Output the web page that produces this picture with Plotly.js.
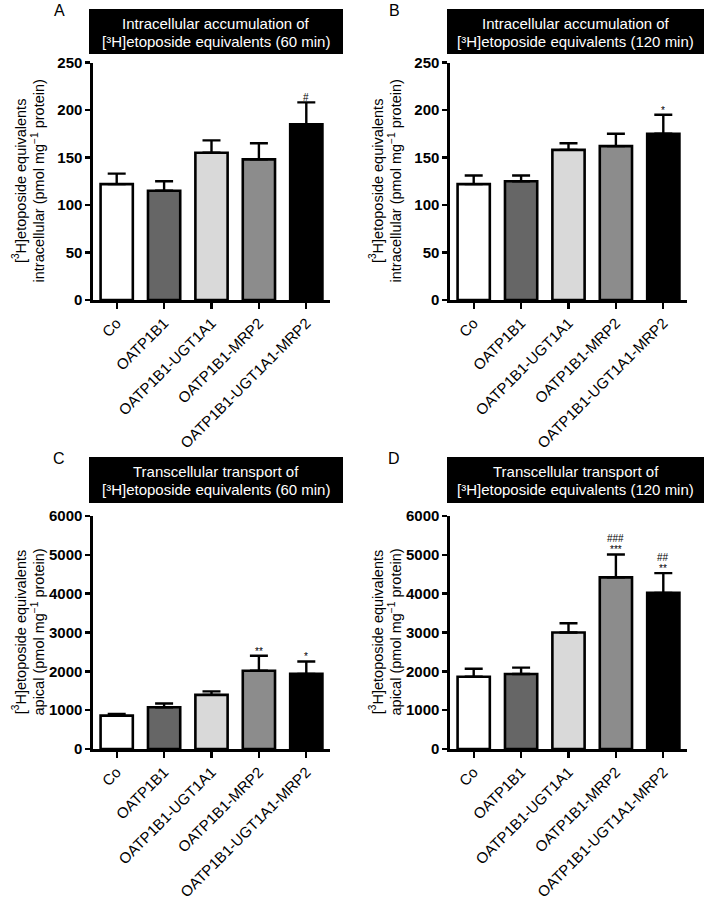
<!DOCTYPE html>
<html>
<head>
<meta charset="utf-8">
<script src="https://cdn.plot.ly/plotly-3.0.1.min.js"></script>
<style>html,body{margin:0;padding:0;background:#fff;}#chart{width:708px;height:899px;}</style>
</head>
<body>
<div id="chart"></div>
<script>
// ---- data ----
const categories = ['Co', 'OATP1B1', 'OATP1B1-UGT1A1', 'OATP1B1-MRP2', 'OATP1B1-UGT1A1-MRP2'];
const barColors = ['#ffffff', '#666666', '#d9d9d9', '#8c8c8c', '#000000'];

const meanA = [122, 115, 155, 148, 185];
const sdA   = [11, 10, 13, 17, 23];
const meanB = [122, 125, 158, 162, 175];
const sdB   = [9, 6, 7, 13, 20];
const meanC = [860, 1075, 1395, 2015, 1935];
const sdC   = [45, 95, 90, 385, 320];
const meanD = [1860, 1930, 3000, 4420, 4020];
const sdD   = [205, 165, 240, 590, 510];

const sigLowA = ['', '', '', '', '#'];
const sigLowB = ['', '', '', '', '*'];
const sigLowC = ['', '', '', '**', '*'];
const sigLowD = ['', '', '', '***', '**'];
const sigHighD = ['', '', '', '###', '##'];

const titleLine1 = ['Intracellular accumulation of', 'Intracellular accumulation of',
                    'Transcellular transport of', 'Transcellular transport of'];
const titleLine2 = ['[³H]etoposide equivalents (60 min)', '[³H]etoposide equivalents (120 min)',
                    '[³H]etoposide equivalents (60 min)', '[³H]etoposide equivalents (120 min)'];
const yTitles = ['[<sup>3</sup>H]etoposide equivalents<br>intracellular (pmol mg<sup>−1</sup> protein)',
                 '[<sup>3</sup>H]etoposide equivalents<br>intracellular (pmol mg<sup>−1</sup> protein)',
                 '[<sup>3</sup>H]etoposide equivalents<br>apical (pmol mg<sup>−1</sup> protein)',
                 '[<sup>3</sup>H]etoposide equivalents<br>apical (pmol mg<sup>−1</sup> protein)'];
const panelLetters = ['A', 'B', 'C', 'D'];
const yMax = [250, 250, 6000, 6000];
const yStep = [50, 50, 1000, 1000];

// ---- layout geometry (pixels) ----
const W = 708, H = 899;
const FONT = 'Liberation Sans, Arial, Helvetica, sans-serif';
const px = x => x / W;
const py = y => 1 - y / H;
const panels = [
  {x0: 93,  x1: 330, y0: 62.5, y1: 300, box: [89, 343, 9, 54],    letter: [59, 10.5],  ytl: [28.5, 181]},
  {x0: 450, x1: 687, y0: 62.5, y1: 300, box: [447, 704, 9, 54],   letter: [394, 10.5], ytl: [385.5, 181]},
  {x0: 93,  x1: 330, y0: 516,  y1: 749, box: [89, 343, 457, 503], letter: [59, 458.5], ytl: [28.5, 632]},
  {x0: 450, x1: 687, y0: 516,  y1: 749, box: [447, 704, 457, 503], letter: [394, 458.5], ytl: [385.5, 632]}
];

const means = [meanA, meanB, meanC, meanD];
const sds = [sdA, sdB, sdC, sdD];
const sigLow = [sigLowA, sigLowB, sigLowC, sigLowD];
const sigHigh = [null, null, null, sigHighD];

const traces = [];
const layout = {
  width: W, height: H, autosize: false,
  margin: {l: 0, r: 0, t: 0, b: 0},
  paper_bgcolor: '#fff', plot_bgcolor: 'rgba(0,0,0,0)',
  showlegend: false,
  font: {family: FONT, color: '#000'},
  shapes: [], annotations: []
};

panels.forEach((p, i) => {
  const n = i + 1;
  const xa = n === 1 ? 'x' : 'x' + n;
  const ya = n === 1 ? 'y' : 'y' + n;
  traces.push({
    type: 'bar', x: categories, y: means[i], xaxis: xa, yaxis: ya,
    width: 0.68,
    marker: {color: barColors, line: {color: '#000', width: 2.6}},
    error_y: {type: 'data', symmetric: false, array: sds[i],
              arrayminus: sds[i].map(() => 0), color: '#000', thickness: 2.4, width: 9},
    hoverinfo: 'none', cliponaxis: false
  });
  layout['xaxis' + (n === 1 ? '' : n)] = {
    domain: [px(p.x0), px(p.x1)], anchor: ya, type: 'category',
    range: [-0.5, 4.5], showgrid: false, zeroline: false,
    showline: true, linecolor: '#000', linewidth: 2.6,
    ticks: 'outside', ticklen: 6, tickwidth: 2.4, tickcolor: '#000',
    tickangle: -45, tickfont: {family: FONT, size: 15, color: '#000'}, fixedrange: true
  };
  layout['yaxis' + (n === 1 ? '' : n)] = {
    domain: [py(p.y1), py(p.y0)], anchor: xa,
    range: [0, yMax[i]], dtick: yStep[i], tick0: 0, showgrid: false, zeroline: false,
    showline: true, linecolor: '#000', linewidth: 2.6,
    ticks: 'outside', ticklen: 5, tickwidth: 2.4, tickcolor: '#000',
    tickfont: {family: FONT, size: 15, color: '#000', weight: 'bold'}, fixedrange: true
  };
  // title box
  layout.shapes.push({type: 'rect', xref: 'paper', yref: 'paper',
    x0: px(p.box[0]), x1: px(p.box[1]), y0: py(p.box[3]), y1: py(p.box[2]),
    fillcolor: '#000', line: {width: 0}, layer: 'below'});
  const cx = (p.box[0] + p.box[1]) / 2;
  layout.annotations.push({xref: 'paper', yref: 'paper', x: px(cx), y: py(p.box[2] + 14),
    text: titleLine1[i], showarrow: false, xanchor: 'center', yanchor: 'middle',
    font: {family: FONT, size: 15, color: '#fff'}});
  layout.annotations.push({xref: 'paper', yref: 'paper', x: px(cx), y: py(p.box[2] + 32),
    text: titleLine2[i], showarrow: false, xanchor: 'center', yanchor: 'middle',
    font: {family: FONT, size: 15, color: '#fff'}});
  // panel letter
  layout.annotations.push({xref: 'paper', yref: 'paper', x: px(p.letter[0]), y: py(p.letter[1]),
    text: panelLetters[i], showarrow: false, xanchor: 'center', yanchor: 'middle',
    font: {family: FONT, size: 16, color: '#000'}});
  // y axis title
  layout.annotations.push({xref: 'paper', yref: 'paper', x: px(p.ytl[0]), y: py(p.ytl[1]),
    text: yTitles[i], showarrow: false, xanchor: 'center', yanchor: 'middle', textangle: -90,
    font: {family: FONT, size: 14.5, color: '#000'}});
  // significance marks
  categories.forEach((c, j) => {
    const top = means[i][j] + sds[i][j];
    if (sigLow[i][j]) {
      layout.annotations.push({xref: xa, yref: ya, x: c, y: top, text: sigLow[i][j],
        showarrow: false, xanchor: 'center', yanchor: 'bottom', yshift: -3,
        font: {family: FONT, size: 10, color: '#000'}});
    }
    if (sigHigh[i] && sigHigh[i][j]) {
      layout.annotations.push({xref: xa, yref: ya, x: c, y: top, text: sigHigh[i][j],
        showarrow: false, xanchor: 'center', yanchor: 'bottom', yshift: 8,
        font: {family: FONT, size: 10, color: '#000'}});
    }
  });
});

Plotly.newPlot('chart', traces, layout, {displayModeBar: false, staticPlot: true});
</script>
</body>
</html>
